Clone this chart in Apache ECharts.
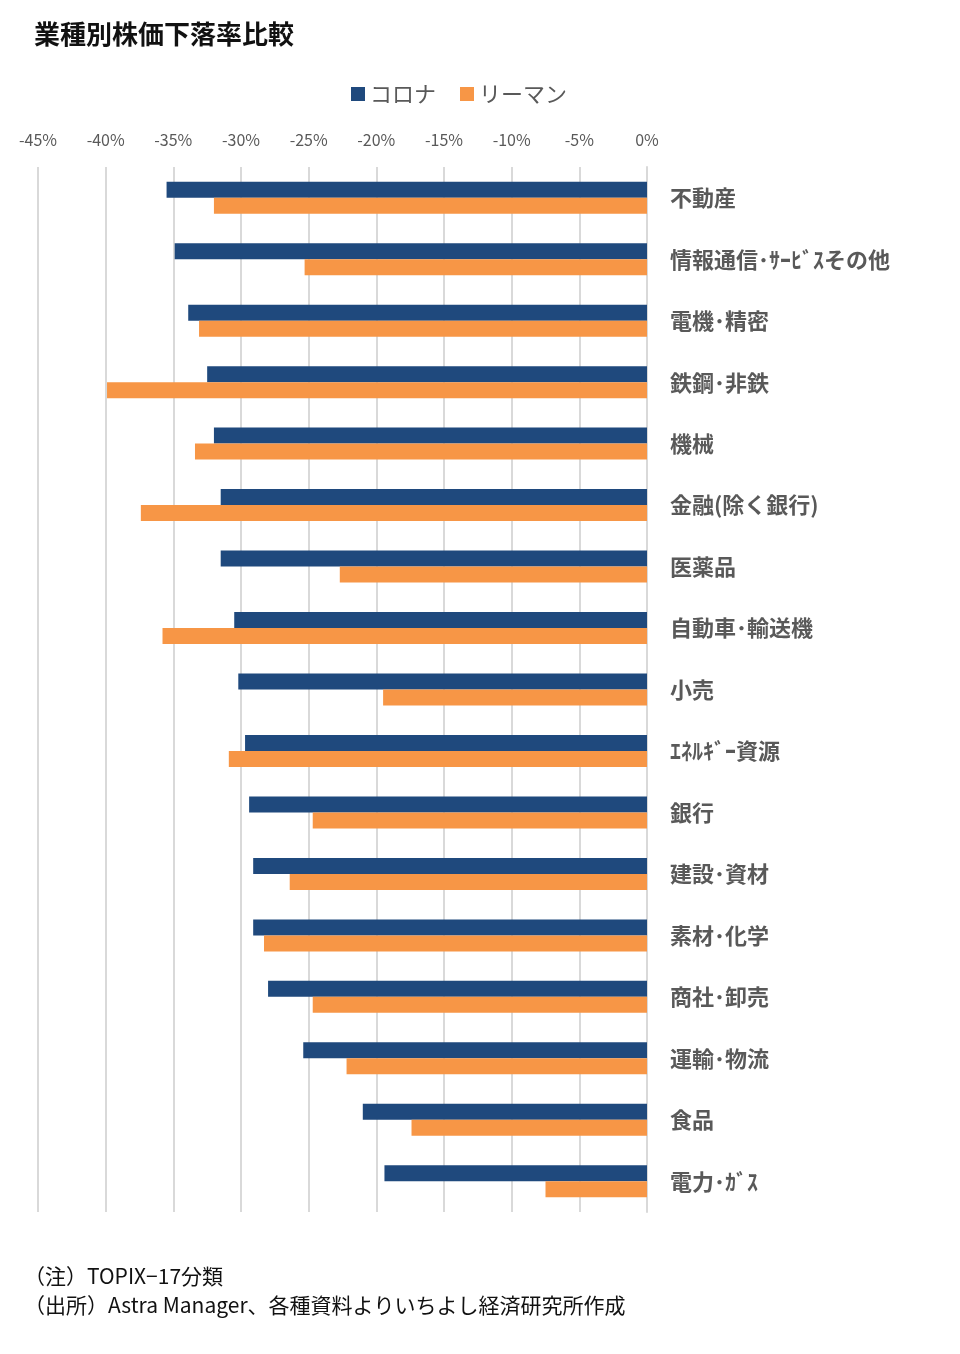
<!DOCTYPE html>
<html><head><meta charset="utf-8">
<script src="https://cdn.jsdelivr.net/npm/echarts@6/dist/echarts.min.js"></script>
<style>html,body{margin:0;padding:0;background:#fff}#c{width:960px;height:1354px}</style>
</head><body><div id="c"></div>
<script>
const categories = ['不動産','情報通信･ｻｰﾋﾞｽその他','電機･精密','鉄鋼･非鉄','機械','金融(除く銀行)','医薬品','自動車･輸送機','小売','ｴﾈﾙｷﾞｰ資源','銀行','建設･資材','素材･化学','商社･卸売','運輸･物流','食品','電力･ｶﾞｽ'];
const corona = [-35.5,-34.9,-33.9,-32.5,-32.0,-31.5,-31.5,-30.5,-30.2,-29.7,-29.4,-29.1,-29.1,-28.0,-25.4,-21.0,-19.4];
const lehman = [-32.0,-25.3,-33.1,-39.9,-33.4,-37.4,-22.7,-35.8,-19.5,-30.9,-24.7,-26.4,-28.3,-24.7,-22.2,-17.4,-7.5];
const seriesNames = ['コロナ','リーマン'];
const titleText = '業種別株価下落率比較';
const notes = ['（注）TOPIX−17分類','（出所）Astra Manager、各種資料よりいちよし経済研究所作成'];

const chart = echarts.init(document.getElementById('c'));
const font = '"Noto Sans CJK JP","Noto Sans",sans-serif';
chart.setOption({
  backgroundColor:'#fff',
  animation:false,
  textStyle:{fontFamily:font},
  title:{text:titleText,left:29,top:16,textStyle:{fontSize:26,fontWeight:'bold',color:'#111',fontFamily:font}},
  legend:{top:78,left:346,itemWidth:14,itemHeight:14,itemGap:24,icon:'rect',
    textStyle:{fontSize:22,color:'#595959',fontFamily:font},data:seriesNames},
  grid:{left:38,right:313,top:167,bottom:142,containLabel:false},
  xAxis:{type:'value',position:'top',min:-45,max:0,interval:5,
    axisLine:{show:false},axisTick:{show:false},
    axisLabel:{formatter:v=>v+'%',fontSize:16,color:'#595959',margin:19,fontFamily:font},
    splitLine:{lineStyle:{color:'#d9d9d9',width:2}}},
  yAxis:{type:'category',data:categories,inverse:true,position:'right',
    axisLine:{show:true,lineStyle:{color:'#d9d9d9',width:2}},axisTick:{show:false},
    axisLabel:{fontSize:22,fontWeight:'bold',color:'#595959',margin:23,fontFamily:font,padding:[0,0,3,0]}},
  series:[
    {name:seriesNames[0],type:'bar',data:corona,barWidth:16,barGap:'0%',itemStyle:{color:'#1F497D'}},
    {name:seriesNames[1],type:'bar',data:lehman,barWidth:16,barGap:'0%',itemStyle:{color:'#F79646'}}
  ],
  graphic:[
    {type:'text',left:24,top:1266,style:{text:notes[0],fontSize:21,fill:'#111',fontFamily:font}},
    {type:'text',left:24,top:1295,style:{text:notes[1],fontSize:21,fill:'#111',fontFamily:font}}
  ]
});
</script></body></html>
